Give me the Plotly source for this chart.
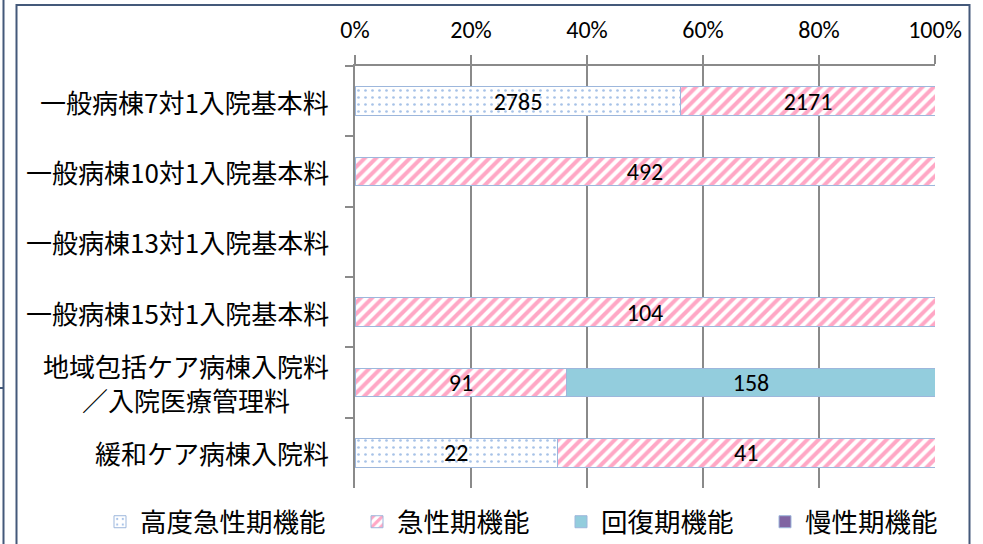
import plotly.graph_objects as go

# ---------------- data ----------------
categories = [
    "一般病棟7対1入院基本料",
    "一般病棟10対1入院基本料",
    "一般病棟13対1入院基本料",
    "一般病棟15対1入院基本料",
    "地域包括ケア病棟入院料<br>／入院医療管理料",
    "緩和ケア病棟入院料",
]
series_names = ["高度急性期機能", "急性期機能", "回復期機能", "慢性期機能"]
high_acute = [2785, None, None, None, None, 22]
acute = [2171, 492, None, 104, 91, 41]
recovery = [None, None, None, None, 158, None]
chronic = [None, None, None, None, None, None]
x_ticks = [0, 20, 40, 60, 80, 100]
x_tick_labels = ["0%", "20%", "40%", "60%", "80%", "100%"]

# ---------------- layout constants ----------------
W, H = 983, 544
ML, MR, MT, MB = 355, 48, 66, 56
PW, PH = W - ML - MR, H - MT - MB


def px_x(px):
    return (px - ML) / PW


def px_y(py):
    return (H - MB - py) / PH


GRID = "#8A8A8A"
BORDER = "#9DB7DC"
CJK = "Noto Sans CJK JP, Noto Sans, sans-serif"
NUM = "Carlito, Roboto, Noto Sans CJK JP, sans-serif"


def labels(vals):
    return [str(v) if v else "" for v in vals]


fig = go.Figure()
styles = [
    dict(pattern=dict(shape=".", fgcolor="#4F86D0", bgcolor="white", size=7, solidity=0.12),
         color="white"),
    dict(pattern=dict(shape="/", fgcolor="#FF4F8B", bgcolor="white", size=8, solidity=0.5),
         color="white"),
    dict(pattern=dict(shape=""), color="#93CDDD"),
    dict(pattern=dict(shape=""), color="#8064A2"),
]
data_series = [high_acute, acute, recovery, chronic]
legend_names = [series_names[0] + "\u3000", series_names[1] + "\u3000",
                series_names[2] + "\u3000", series_names[3]]
for name, vals, st in zip(legend_names, data_series, styles):
    fig.add_trace(go.Bar(
        y=categories, x=vals, orientation="h", name=name,
        marker=dict(color=st["color"], pattern=st["pattern"],
                    line=dict(color=BORDER, width=1)),
        text=labels(vals), textposition="inside", insidetextanchor="middle",
        constraintext="none", textangle=0,
        textfont=dict(family=NUM, size=24, color="black"),
        hoverinfo="skip",
    ))

fig.update_layout(
    width=W, height=H,
    margin=dict(l=ML, r=MR, t=MT, b=MB, autoexpand=False),
    barmode="stack", barnorm="percent", bargap=0.59,
    plot_bgcolor="white", paper_bgcolor="white",
    font=dict(family=CJK, size=26, color="black"),
    showlegend=True,
    legend=dict(orientation="h", x=px_x(100), y=px_y(522), xanchor="left",
                yanchor="middle", font=dict(family=CJK, size=26.5, color="black"),
                traceorder="normal", itemwidth=30, bgcolor="rgba(0,0,0,0)"),
)
fig.update_xaxes(
    side="top", range=[0, 100], tickvals=x_ticks, ticktext=x_tick_labels,
    showgrid=True, gridcolor=GRID, gridwidth=1.5,
    showline=True, linecolor=GRID, linewidth=1.5,
    ticks="outside", ticklen=9, tickcolor=GRID, tickwidth=1.5,
    tickfont=dict(family=NUM, size=24, color="black"),
    ticklabelstandoff=8, zeroline=False, fixedrange=True, automargin=False,
)
fig.update_yaxes(
    autorange="reversed", showticklabels=False,
    showline=True, linecolor=GRID, linewidth=1.5,
    ticks="outside", tickson="boundaries", ticklen=8, tickcolor=GRID, tickwidth=1.5,
    showgrid=False, fixedrange=True, automargin=False,
)

# category labels (centered lines, right-aligned block)
for c in categories:
    fig.add_annotation(x=px_x(331), xref="paper", y=c, yref="y", text=c,
                       showarrow=False, xanchor="right", yanchor="middle",
                       align="center", font=dict(family=CJK, size=26, color="black"))

# chart frame and neighbouring chart edge
FRAME = "#44597A"
fig.add_shape(type="rect", xref="paper", yref="paper",
              x0=px_x(16.5), x1=px_x(969.5), y0=px_y(570), y1=px_y(5),
              line=dict(color=FRAME, width=2), fillcolor="rgba(0,0,0,0)", layer="above")
fig.add_shape(type="line", xref="paper", yref="paper",
              x0=px_x(3.5), x1=px_x(3.5), y0=px_y(570), y1=px_y(-5),
              line=dict(color=FRAME, width=2))
fig.add_shape(type="line", xref="paper", yref="paper",
              x0=px_x(-5), x1=px_x(3.5), y0=px_y(388), y1=px_y(388),
              line=dict(color=FRAME, width=2))

fig.write_html("out.html", config={"displayModeBar": False},
               post_script="document.body.style.margin='0';")
